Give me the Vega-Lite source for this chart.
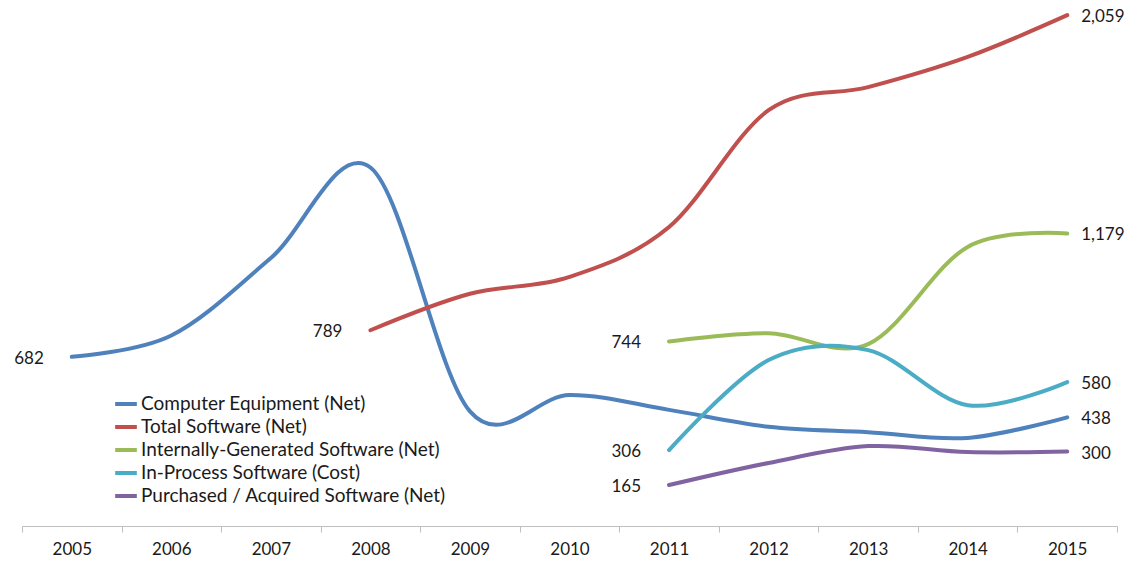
{
  "$schema": "https://vega.github.io/schema/vega-lite/v6.json",
  "width": 1095,
  "height": 521,
  "autosize": {"type": "none"},
  "padding": {"left": 22, "top": 5, "right": 17, "bottom": 38},
  "background": "white",
  "config": {"view": {"stroke": null}, "font": "Lato"},
  "data": {
    "values": [
      {"series": "Computer Equipment (Net)", "year": "2005", "value": 682},
      {"series": "Computer Equipment (Net)", "year": "2006", "value": 768},
      {"series": "Computer Equipment (Net)", "year": "2007", "value": 1080},
      {"series": "Computer Equipment (Net)", "year": "2008", "value": 1445},
      {"series": "Computer Equipment (Net)", "year": "2009", "value": 462},
      {"series": "Computer Equipment (Net)", "year": "2010", "value": 528},
      {"series": "Computer Equipment (Net)", "year": "2011", "value": 468},
      {"series": "Computer Equipment (Net)", "year": "2012", "value": 400},
      {"series": "Computer Equipment (Net)", "year": "2013", "value": 378},
      {"series": "Computer Equipment (Net)", "year": "2014", "value": 355},
      {"series": "Computer Equipment (Net)", "year": "2015", "value": 438},
      {"series": "Total Software (Net)", "year": "2008", "value": 789},
      {"series": "Total Software (Net)", "year": "2009", "value": 936},
      {"series": "Total Software (Net)", "year": "2010", "value": 1004},
      {"series": "Total Software (Net)", "year": "2011", "value": 1205},
      {"series": "Total Software (Net)", "year": "2012", "value": 1676},
      {"series": "Total Software (Net)", "year": "2013", "value": 1769},
      {"series": "Total Software (Net)", "year": "2014", "value": 1891},
      {"series": "Total Software (Net)", "year": "2015", "value": 2059},
      {"series": "Internally-Generated Software (Net)", "year": "2011", "value": 744},
      {"series": "Internally-Generated Software (Net)", "year": "2012", "value": 777},
      {"series": "Internally-Generated Software (Net)", "year": "2013", "value": 733},
      {"series": "Internally-Generated Software (Net)", "year": "2014", "value": 1125},
      {"series": "Internally-Generated Software (Net)", "year": "2015", "value": 1179},
      {"series": "In-Process Software (Cost)", "year": "2011", "value": 306},
      {"series": "In-Process Software (Cost)", "year": "2012", "value": 669},
      {"series": "In-Process Software (Cost)", "year": "2013", "value": 709},
      {"series": "In-Process Software (Cost)", "year": "2014", "value": 487},
      {"series": "In-Process Software (Cost)", "year": "2015", "value": 580},
      {"series": "Purchased / Acquired Software (Net)", "year": "2011", "value": 165},
      {"series": "Purchased / Acquired Software (Net)", "year": "2012", "value": 254},
      {"series": "Purchased / Acquired Software (Net)", "year": "2013", "value": 322},
      {"series": "Purchased / Acquired Software (Net)", "year": "2014", "value": 298},
      {"series": "Purchased / Acquired Software (Net)", "year": "2015", "value": 300}
    ]
  },
  "encoding": {
    "x": {
      "field": "year",
      "type": "ordinal",
      "bandPosition": 0.5,
      "scale": {"type": "band", "paddingInner": 0, "paddingOuter": 0},
      "axis": {
        "title": null,
        "labelAngle": 0,
        "tickBand": "extent",
        "domainColor": "#BFBFBF",
        "tickColor": "#BFBFBF",
        "tickSize": 6,
        "labelFontSize": 17,
        "labelColor": "#1a1a1a",
        "labelPadding": 9,
        "grid": false
      }
    },
    "y": {
      "field": "value",
      "type": "quantitative",
      "scale": {"domain": [0, 2100], "nice": false, "zero": true},
      "axis": null
    }
  },
  "layer": [
    {
      "mark": {"type": "line", "interpolate": "cardinal", "strokeWidth": 4, "strokeCap": "round"},
      "encoding": {
        "color": {
          "field": "series",
          "type": "nominal",
          "scale": {
            "domain": ["Computer Equipment (Net)", "Total Software (Net)", "Internally-Generated Software (Net)", "In-Process Software (Cost)", "Purchased / Acquired Software (Net)"],
            "range": ["#4F81BD", "#C0504D", "#9BBB59", "#4BACC6", "#8064A2"]
          },
          "legend": {
            "orient": "none",
            "legendX": 91,
            "legendY": 386,
            "title": null,
            "symbolType": "stroke",
            "symbolStrokeWidth": 4,
            "symbolSize": 470,
            "labelFontSize": 19,
            "labelColor": "#1a1a1a",
            "labelOffset": 2,
            "labelLimit": 600,
            "rowPadding": 0
          }
        }
      }
    },
    {
      "transform": [
        {"window": [{"op": "row_number", "as": "r"}], "groupby": ["series"], "sort": [{"field": "year", "order": "ascending"}]},
        {"filter": "datum.r == 1"}
      ],
      "mark": {"type": "text", "align": "right", "baseline": "middle", "dx": -28, "dy": 2, "fontSize": 17, "color": "#1a1a1a"},
      "encoding": {"text": {"field": "value", "type": "quantitative", "format": ",.0f"}}
    },
    {
      "transform": [
        {"window": [{"op": "row_number", "as": "r"}], "groupby": ["series"], "sort": [{"field": "year", "order": "descending"}]},
        {"filter": "datum.r == 1"}
      ],
      "mark": {"type": "text", "align": "left", "baseline": "middle", "dx": 14, "dy": 2, "fontSize": 17, "color": "#1a1a1a"},
      "encoding": {"text": {"field": "value", "type": "quantitative", "format": ",.0f"}}
    }
  ]
}
